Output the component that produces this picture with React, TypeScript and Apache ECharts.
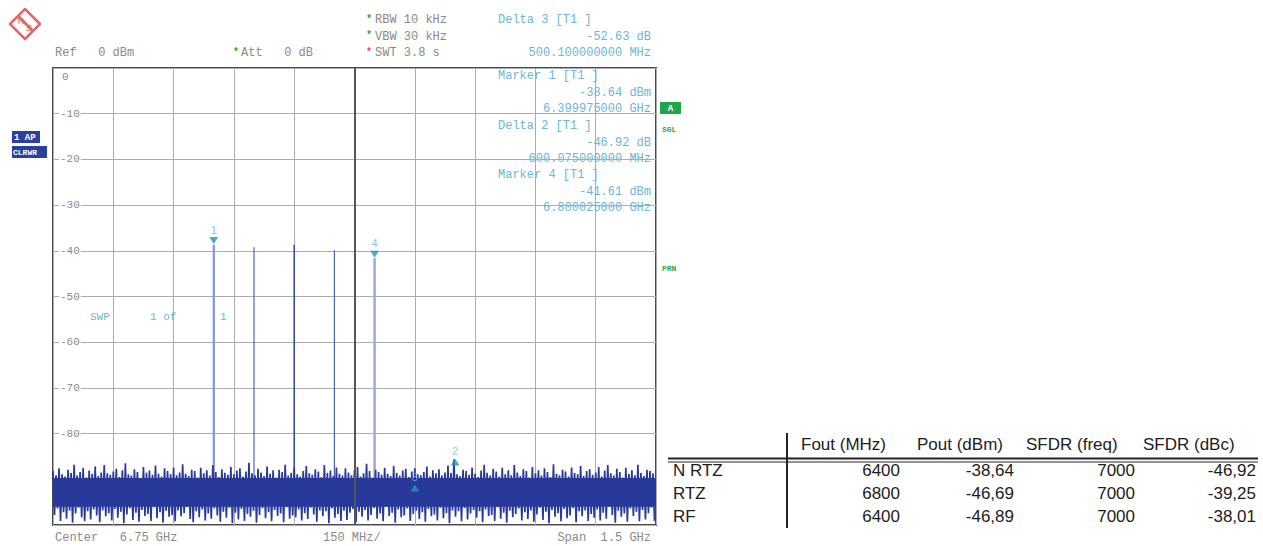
import React, { useEffect, useRef } from "react";
import * as echarts from "echarts";

// ---------- data ----------
const sweepStartMHz = 6000;
const sweepStopMHz = 7500;
const divMHz = 150;
const centerMHz = 6750;
const refLevelDbm = 0;
const bottomLevelDbm = -100;
const dbPerDiv = 10;

// trace maxima / minima read from the noise floor (dBm), left to right
const traceTops = [
  -88.2, -89.1, -87.6, -88.9, -89.4, -87.9, -88.6, -86.8, -89.2, -88.4, -87.5, -89.6, -88.1, -88.8, -87.2, -89.3, -88.5, -86.9, -88.7, -89.0,
  -88.3, -87.7, -89.5, -88.0, -86.5, -88.9, -89.2, -87.8, -88.4, -89.7, -87.3, -88.6, -88.1, -89.0, -87.0, -88.8, -89.4, -87.6, -88.2, -88.9,
  -87.4, -89.1, -88.5, -86.7, -88.8, -89.3, -87.9, -88.2, -89.6, -87.5, -88.7, -88.0, -89.2, -86.9, -88.4, -89.5, -87.8, -88.6, -89.0, -87.3,
  -88.9, -88.1, -87.6, -89.4, -88.3, -86.4, -88.7, -89.1, -87.7, -88.5, -89.3, -87.2, -88.8, -88.0, -89.6, -87.9, -88.4, -86.8, -89.2, -88.6,
  -87.5, -88.9, -89.4, -88.2, -87.1, -88.7, -89.0, -87.8, -88.3, -89.5, -86.9, -88.6, -88.1, -89.3, -87.4, -88.8, -89.2, -87.6, -88.5, -89.1,
  -88.0, -87.3, -89.4, -88.7, -86.6, -88.2, -89.6, -87.9, -88.4, -89.0, -87.5, -88.8, -89.3, -87.1, -88.6, -89.2, -88.1, -87.7, -89.5, -88.3,
  -87.6, -88.9, -89.1, -88.4, -87.2, -89.4, -88.0, -88.7, -87.8, -89.2, -88.5, -87.0, -88.6, -85.6, -88.9, -89.3, -87.9, -88.2, -89.0, -87.4,
  -88.8, -89.5, -88.1, -86.8, -88.6, -89.2, -87.7, -88.3, -89.4, -87.5, -88.9, -88.0, -89.1, -86.9, -88.5, -89.3, -87.8, -88.2, -89.6, -87.3,
  -88.7, -88.0, -89.2, -87.6, -88.4, -89.5, -86.7, -88.8, -89.1, -87.9, -88.3, -89.4, -87.4, -88.6, -88.9, -87.1, -89.3, -88.2, -87.8, -89.0,
  -88.5, -87.3, -89.4, -88.1, -86.9, -88.7, -89.2, -87.7, -88.4, -89.6, -87.5, -88.8, -88.0, -89.1, -86.8, -88.6, -89.3, -87.9, -88.2, -88.7,
];
const traceBottoms = [
  -97.8, -96.4, -99.1, -97.2, -98.6, -96.9, -99.5, -97.5, -96.2, -98.3, -99.2, -97.0, -98.8, -96.6, -97.9, -99.4, -96.8, -98.1, -97.4, -99.0,
  -96.5, -98.4, -97.1, -99.6, -97.7, -96.3, -98.9, -97.3, -99.3, -96.7, -98.0, -97.6, -99.1, -96.1, -98.5, -97.2, -99.5, -96.9, -98.2, -97.8,
  -99.2, -96.8, -98.1, -97.4, -96.0, -98.7, -99.4, -97.0, -98.3, -96.6, -99.0, -97.5, -98.6, -96.4, -97.9, -99.3, -97.1, -98.4, -96.2, -99.6,
  -97.3, -98.8, -96.5, -99.1, -97.6, -98.2, -96.9, -99.5, -97.8, -96.3, -98.5, -97.2, -99.2, -96.7, -98.0, -97.5, -99.4, -96.1, -98.6, -97.9,
  -98.3, -96.6, -99.0, -97.4, -98.7, -96.2, -97.7, -99.3, -96.8, -98.1, -97.0, -99.6, -96.4, -98.4, -97.6, -99.1, -96.9, -98.9, -97.3, -96.5,
  -99.4, -97.1, -98.2, -96.7, -99.0, -97.8, -96.3, -98.6, -97.5, -99.2, -96.0, -98.0, -97.3, -99.5, -96.6, -98.3, -97.9, -96.4, -99.1, -97.6,
  -96.9, -98.7, -97.2, -99.3, -96.5, -98.1, -97.7, -99.0, -96.2, -98.5, -97.4, -99.6, -96.8, -98.2, -97.0, -99.2, -96.3, -98.8, -97.5, -96.7,
  -98.4, -97.0, -99.4, -96.6, -98.0, -97.8, -99.1, -96.1, -98.6, -97.3, -99.5, -96.9, -98.3, -97.6, -96.4, -99.0, -97.2, -98.7, -96.8, -99.3,
  -97.7, -96.2, -98.9, -97.1, -99.6, -96.7, -98.2, -97.4, -99.2, -96.5, -98.5, -97.9, -96.3, -99.4, -97.0, -98.1, -96.8, -99.1, -97.6, -98.4,
  -96.6, -99.0, -97.3, -98.6, -96.0, -97.8, -99.5, -96.9, -98.2, -97.5, -99.3, -96.4, -98.0, -97.1, -99.2, -96.7, -98.8, -97.4, -96.2, -99.1,
];

// discrete spurs / tones (MHz, dBm)
const spurFreqs = [6400, 6500, 6600, 6700, 6800];
const spurLevels = [-38.64, -39.2, -38.7, -39.9, -41.61];

// markers
const markerNames = ["1", "2", "3", "4"];
const markerFreqs = [6399.975, 7000.05, 6900.075, 6800.025];
const markerLevels = [-38.64, -85.56, -91.27, -41.61];
const markerPointsDown = [true, false, false, true];

// marker readout block
const readoutTitles = ["Delta 3 [T1 ]", "Marker 1 [T1 ]", "Delta 2 [T1 ]", "Marker 4 [T1 ]"];
const readoutLevels = ["-52.63 dB", "-38.64 dBm", "-46.92 dB", "-41.61 dBm"];
const readoutFreqs = ["500.100000000 MHz", "6.399975000 GHz", "600.075000000 MHz", "6.800025000 GHz"];

// settings
const settingLabels = ["RBW 10 kHz", "VBW 30 kHz", "SWT 3.8 s"];

// table
const tableColumns = ["Fout (MHz)", "Pout (dBm)", "SFDR (freq)", "SFDR (dBc)"];
const tableRows = ["N RTZ", "RTZ", "RF"];
const foutMHz = [6400, 6800, 6400];
const poutDbm = [-38.64, -46.69, -46.89];
const sfdrFreqMHz = [7000, 7000, 7000];
const sfdrDbc = [-46.92, -39.25, -38.01];

// ---------- styles ----------
const MONO = '"Liberation Mono", "DejaVu Sans Mono", monospace';
const SANS = '"Liberation Sans", Arial, sans-serif';
const GRAY = "#8a8a8a";
const CYAN = "#6cb6d2";
const NOISE = "#28399b";
const spurColors = ["#8696d8", "#4d63c4", "#2e44a4", "#4a60c2", "#9eace4"];
const spurWidths = [2.2, 1.2, 1.5, 1.2, 2.6];

function txt(x: number, y: number, text: string, fill: string, size = 12, align = "left", family = MONO, weight = "normal") {
  return {
    type: "text",
    x,
    y,
    silent: true,
    z: 100,
    style: {
      text,
      fill,
      font: `${weight} ${size}px ${family}`,
      textAlign: align,
      align,
      textVerticalAlign: "middle",
      verticalAlign: "middle",
    },
  };
}

function comma(v: number) {
  return v.toFixed(2).replace(".", ",");
}

export default function App() {
  const ref = useRef<HTMLDivElement>(null);

  useEffect(() => {
    if (!ref.current) return;
    const chart = echarts.init(ref.current, undefined, { renderer: "svg" });

    const step = (sweepStopMHz - sweepStartMHz) / traceTops.length;
    const tracePoints: number[][] = [];
    traceTops.forEach((t, i) => {
      tracePoints.push([sweepStartMHz + i * step, t]);
      tracePoints.push([sweepStartMHz + (i + 0.5) * step, traceBottoms[i]]);
    });
    // solid core of the trace: between the lowest maximum and the highest minimum
    const coreTop = Math.min(...traceTops);
    const coreBottom = Math.max(...traceBottoms);

    const graphics: any[] = [];

    // logo
    graphics.push({
      type: "group",
      x: 25,
      y: 24,
      silent: true,
      children: [
        { type: "polygon", shape: { points: [[0, -15], [15, 0], [0, 15], [-15, 0]] }, style: { fill: "#fff", stroke: "#e06a6a", lineWidth: 2.5, lineJoin: "round" } },
        { type: "line", shape: { x1: -7, y1: -8, x2: 8, y2: 7 }, style: { stroke: "#e06a6a", lineWidth: 3 } },
        { type: "text", x: -4, y: -3, style: { text: "R", fill: "#e06a6a", font: `9px ${SANS}`, align: "center", textAlign: "center", verticalAlign: "middle", textVerticalAlign: "middle" } },
        { type: "text", x: 4, y: 4, style: { text: "S", fill: "#e06a6a", font: `9px ${SANS}`, align: "center", textAlign: "center", verticalAlign: "middle", textVerticalAlign: "middle" } },
      ],
    });

    // header
    graphics.push(txt(55, 53, "Ref   0 dBm", GRAY));
    graphics.push(txt(233, 52, "*", "#22a64a", 10, "left", MONO, "bold"));
    graphics.push(txt(241, 53, "Att   0 dB", GRAY));
    const starColors = ["#22a64a", "#22a64a", "#e05050"];
    settingLabels.forEach((s, i) => {
      const y = 20 + i * 16.5;
      graphics.push(txt(366, y - 1, "*", starColors[i], 10, "left", MONO, "bold"));
      graphics.push(txt(375, y, s, GRAY));
    });

    // readouts
    const blockY = [20, 76, 126, 175];
    readoutTitles.forEach((t, i) => {
      const y0 = blockY[i];
      graphics.push(txt(498, y0, t, CYAN));
      graphics.push(txt(651, y0 + 16.5, readoutLevels[i], CYAN, 12, "right"));
      graphics.push(txt(651, y0 + 33, readoutFreqs[i], CYAN, 12, "right"));
    });

    // in-plot labels
    graphics.push(txt(62, 77, "0", GRAY, 11));
    graphics.push(txt(90, 317, "SWP", CYAN, 11));
    graphics.push(txt(150, 317, "1 of", CYAN, 11));
    graphics.push(txt(220, 317, "1", CYAN, 11));

    // footer
    graphics.push(txt(55, 538, "Center   6.75 GHz", GRAY));
    graphics.push(txt(323, 538, "150 MHz/", GRAY));
    graphics.push(txt(651, 538, "Span  1.5 GHz", GRAY, 12, "right"));

    // side badges
    graphics.push({ type: "rect", silent: true, z: 100, shape: { x: 12, y: 131, width: 28, height: 12 }, style: { fill: "#2b3f9e" } });
    graphics.push(txt(14, 137.5, "1 AP", "#fff", 9, "left", MONO, "bold"));
    graphics.push({ type: "rect", silent: true, z: 100, shape: { x: 12, y: 146, width: 35, height: 12 }, style: { fill: "#2b3f9e" } });
    graphics.push(txt(13, 152.5, "CLRWR", "#fff", 8, "left", MONO, "bold"));
    graphics.push({ type: "rect", silent: true, z: 100, shape: { x: 660, y: 102, width: 21, height: 12 }, style: { fill: "#1fa64a" } });
    graphics.push(txt(670.5, 108.5, "A", "#fff", 9, "center", MONO, "bold"));
    graphics.push(txt(662, 129, "SGL", "#2aa84a", 8, "left", MONO, "bold"));
    graphics.push(txt(662, 268, "PRN", "#2aa84a", 8, "left", MONO, "bold"));

    // table
    const colLeft = [801, 917, 1026, 1143];
    const colRight = [900, 1014, 1135, 1256];
    const rowY = [470, 493, 516];
    const TBL = "#1c1c1c";
    tableColumns.forEach((c, i) => graphics.push(txt(colLeft[i], 444, c, TBL, 17, "left", SANS)));
    tableRows.forEach((r, j) => {
      graphics.push(txt(673, rowY[j], r, TBL, 17, "left", SANS));
      graphics.push(txt(colRight[0], rowY[j], String(foutMHz[j]), TBL, 17, "right", SANS));
      graphics.push(txt(colRight[1], rowY[j], comma(poutDbm[j]), TBL, 17, "right", SANS));
      graphics.push(txt(colRight[2], rowY[j], String(sfdrFreqMHz[j]), TBL, 17, "right", SANS));
      graphics.push(txt(colRight[3], rowY[j], comma(sfdrDbc[j]), TBL, 17, "right", SANS));
    });
    graphics.push({ type: "line", silent: true, z: 100, shape: { x1: 787, y1: 433, x2: 787, y2: 528 }, style: { stroke: "#222", lineWidth: 2 } });
    graphics.push({ type: "line", silent: true, z: 100, shape: { x1: 668, y1: 458.5, x2: 1258, y2: 458.5 }, style: { stroke: "#222", lineWidth: 2 } });
    graphics.push({ type: "line", silent: true, z: 100, shape: { x1: 668, y1: 462, x2: 1258, y2: 462 }, style: { stroke: "#222", lineWidth: 1 } });

    const option: any = {
      animation: false,
      backgroundColor: "#ffffff",
      grid: {
        left: 53,
        top: 68,
        width: 603,
        height: 457,
        show: true,
        borderColor: "#4a4a4a",
        borderWidth: 2,
        backgroundColor: "transparent",
      },
      xAxis: {
        type: "value",
        min: sweepStartMHz,
        max: sweepStopMHz,
        interval: divMHz,
        axisLine: { show: false },
        axisTick: { show: false },
        axisLabel: { show: false },
        splitLine: { show: true, lineStyle: { color: "#a9adb2", width: 1 } },
      },
      yAxis: {
        type: "value",
        min: bottomLevelDbm,
        max: refLevelDbm,
        interval: dbPerDiv,
        axisLine: { show: false },
        axisTick: { show: false },
        showMinLabel: false,
        showMaxLabel: false,
        axisLabel: {
          inside: true,
          margin: 6,
          color: GRAY,
          fontFamily: MONO,
          fontSize: 11,
          backgroundColor: "#fff",
          padding: [0, 1],
          formatter: (v: number) => (v <= -90 || v >= 0 ? "" : String(v)),
        },
        splitLine: { show: true, lineStyle: { color: "#a9adb2", width: 1 } },
      },
      series: [
        {
          type: "custom",
          name: "spurs",
          z: 1,
          silent: true,
          renderItem: (params: any, api: any) => {
            const top = api.coord([api.value(0), api.value(1)]);
            const bot = api.coord([api.value(0), -93]);
            const i = params.dataIndex;
            return {
              type: "line",
              shape: { x1: top[0], y1: top[1], x2: bot[0], y2: bot[1] },
              style: { stroke: spurColors[i], lineWidth: spurWidths[i] },
            };
          },
          data: spurFreqs.map((f, i) => [f, spurLevels[i]]),
        },
        {
          type: "custom",
          name: "traceCore",
          z: 2,
          silent: true,
          renderItem: (params: any, api: any) => {
            const a = api.coord([api.value(0), api.value(2)]);
            const b = api.coord([api.value(1), api.value(3)]);
            return {
              type: "rect",
              shape: { x: a[0], y: a[1], width: b[0] - a[0], height: b[1] - a[1] },
              style: { fill: NOISE },
            };
          },
          encode: { x: [0, 1], y: [2, 3] },
          data: [[sweepStartMHz, sweepStopMHz, coreTop, coreBottom]],
        },
        {
          type: "line",
          name: "trace",
          z: 3,
          silent: true,
          showSymbol: false,
          symbol: "none",
          lineStyle: { color: NOISE, width: 1.7 },
          data: tracePoints,
          markLine: {
            silent: true,
            symbol: "none",
            label: { show: false },
            lineStyle: { color: "#555", width: 2, type: "solid" },
            data: [{ xAxis: centerMHz }],
          },
        },
        {
          type: "scatter",
          name: "markers",
          z: 5,
          silent: true,
          symbol: "triangle",
          symbolSize: [9, 7],
          itemStyle: { color: "#1d9bb6" },
          label: {
            show: true,
            position: "top",
            distance: 2,
            color: CYAN,
            fontFamily: SANS,
            fontSize: 11,
            formatter: (p: any) => markerNames[p.dataIndex],
          },
          data: markerFreqs.map((f, i) => ({
            value: [f, markerLevels[i]],
            symbolRotate: markerPointsDown[i] ? 180 : 0,
            symbolOffset: markerPointsDown[i] ? [0, -4] : [0, 3],
          })),
        },
      ],
      graphic: { elements: graphics },
    };

    chart.setOption(option);
    return () => chart.dispose();
  }, []);

  return (
    <div
      ref={ref}
      style={{ position: "fixed", left: 0, top: 0, width: 1263, height: 546, background: "#fff" }}
    />
  );
}
